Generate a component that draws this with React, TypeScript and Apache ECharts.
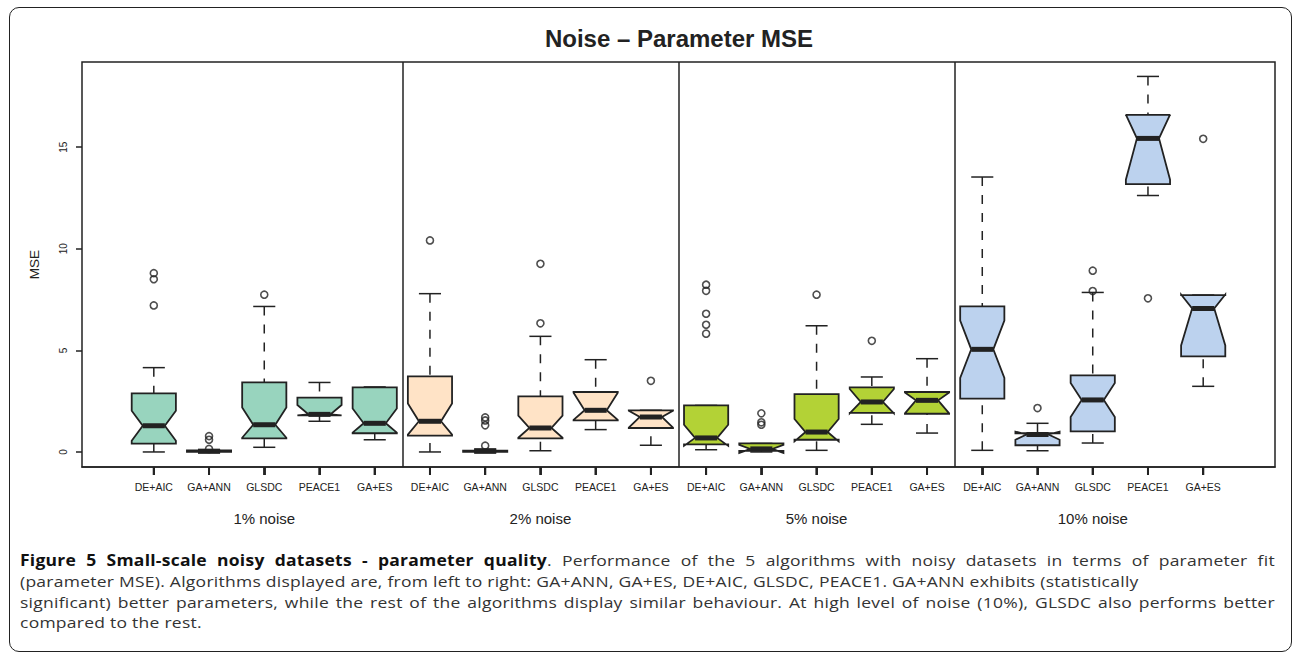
import React, { useEffect, useRef } from "react";
import * as echarts from "echarts";

const algorithms = ["DE+AIC", "GA+ANN", "GLSDC", "PEACE1", "GA+ES"];
const noiseLevels = ["1% noise", "2% noise", "5% noise", "10% noise"];
const panelColors = ["#98D4BE", "#FFE3C6", "#B3D236", "#BCD2EE"];
const yTickValues = [0, 5, 10, 15];

// box statistics per algorithm: [lowWhisker, q1, notchLo, median, notchHi, q3, highWhisker]
const noise1Stats = [
  [0, 0.41, 0.55, 1.29, 2.03, 2.88, 4.15],
  [0, 0.0, 0.01, 0.03, 0.05, 0.08, 0.12],
  [0.23, 0.67, 0.7, 1.34, 2.19, 3.42, 7.16],
  [1.51, 1.8, 1.8, 1.85, 2.31, 2.67, 3.42],
  [0.6, 0.92, 0.95, 1.41, 2.14, 3.18, 3.2],
];
const noise2Stats = [
  [0, 0.8, 0.85, 1.51, 2.38, 3.72, 7.79],
  [0, 0.0, 0.01, 0.03, 0.05, 0.07, 0.15],
  [0.06, 0.67, 0.7, 1.18, 1.79, 2.74, 5.69],
  [1.1, 1.55, 1.58, 2.05, 2.92, 2.95, 4.54],
  [0.33, 1.18, 1.2, 1.72, 2.03, 2.05, 2.05],
];
const noise5Stats = [
  [0.11, 0.37, 0.3, 0.69, 1.34, 2.29, 2.29],
  [0.0, 0.05, -0.05, 0.15, 0.35, 0.42, 0.42],
  [0.08, 0.6, 0.52, 0.98, 1.62, 2.85, 6.21],
  [1.36, 1.92, 1.9, 2.46, 3.1, 3.18, 3.69],
  [0.93, 1.88, 1.9, 2.54, 2.93, 2.95, 4.59],
];
const noise10Stats = [
  [0.08, 2.62, 3.64, 5.05, 6.46, 7.16, 13.53],
  [0.06, 0.33, 0.6, 0.86, 1.0, 0.92, 1.41],
  [0.44, 1.01, 1.72, 2.56, 3.39, 3.77, 7.85],
  [12.62, 13.18, 13.4, 15.43, 16.6, 16.59, 18.48],
  [3.23, 4.7, 5.24, 7.06, 7.75, 7.72, 7.72],
];

// outliers per algorithm
const noise1Outliers = [[8.8, 8.5, 7.21], [0.78, 0.6, 0.15], [7.74], [], []];
const noise2Outliers = [[10.41], [1.7, 1.55, 1.31, 0.31], [6.33, 9.26], [], [3.5]];
const noise5Outliers = [[8.23, 7.93, 6.8, 6.26, 5.82], [1.9, 1.46, 1.34], [7.74], [5.47], []];
const noise10Outliers = [[], [2.16], [7.92, 8.92], [7.56], [15.41]];

const panelStats = [noise1Stats, noise2Stats, noise5Stats, noise10Stats];
const panelOutliers = [noise1Outliers, noise2Outliers, noise5Outliers, noise10Outliers];

type Seg = { t: string; b?: boolean };
const plain = (s: string): Seg[][] => s.split(" ").map((t) => [{ t }]);
const bold = (s: string): Seg[][] => s.split(" ").map((t) => [{ t, b: true }]);

const captionLines: { words: Seg[][]; justify: boolean }[] = [
  {
    justify: true,
    words: [
      ...bold("Figure 5 Small-scale noisy datasets - parameter"),
      [{ t: "quality", b: true }, { t: "." }],
      ...plain("Performance of the 5 algorithms with noisy datasets in terms of parameter fit"),
    ],
  },
  {
    justify: false,
    words: [
      [
        {
          t: "(parameter MSE). Algorithms displayed are, from left to right: GA+ANN, GA+ES, DE+AIC, GLSDC, PEACE1. GA+ANN exhibits (statistically",
        },
      ],
    ],
  },
  {
    justify: true,
    words: plain(
      "significant) better parameters, while the rest of the algorithms display similar behaviour. At high level of noise (10%), GLSDC also performs better"
    ),
  },
  { justify: false, words: [[{ t: "compared to the rest." }]] },
];

export default function App() {
  const ref = useRef<HTMLDivElement>(null);

  useEffect(() => {
    if (!ref.current) return;
    const chart = echarts.init(ref.current, undefined, { renderer: "svg" });

    const boxData: number[][] = [];
    const outlierData: number[][] = [];
    panelStats.forEach((stats, p) => {
      stats.forEach((s, a) => {
        const x = p * 5 + a + 1;
        boxData.push([x, ...s, p]);
        panelOutliers[p][a].forEach((v) => outlierData.push([x, v]));
      });
    });
    const xTicks = boxData.map((d) => d[0]);
    const groupTicks = [3, 8, 13, 18];
    const yMin = -0.74;

    const ink = "#222";
    const font = "Liberation Sans, Arial, sans-serif";

    chart.setOption({
      animation: false,
      title: {
        text: "Noise \u2013 Parameter MSE",
        left: 679,
        top: 26,
        padding: 0,
        textAlign: "center",
        textStyle: { fontFamily: font, fontSize: 24, fontWeight: "bold", color: ink },
      },
      grid: {
        left: 82,
        top: 62,
        right: 20,
        bottom: 186,
        show: true,
        borderColor: ink,
        borderWidth: 1.5,
        backgroundColor: "transparent",
      },
      xAxis: [
        {
          type: "value",
          min: -0.3,
          max: 21.3,
          position: "bottom",
          axisLine: { show: true, onZero: false, lineStyle: { color: ink, width: 1.5 } },
          splitLine: { show: false },
          axisTick: {
            show: true,
            inside: false,
            customValues: xTicks,
            length: 8,
            lineStyle: { color: ink, width: 1.8 },
          },
          axisLabel: {
            customValues: xTicks,
            formatter: (v: number) => algorithms[(Math.round(v) - 1) % 5],
            fontFamily: font,
            fontSize: 10.5,
            color: ink,
            margin: 14,
          },
        },
        {
          type: "value",
          min: -0.3,
          max: 21.3,
          position: "bottom",
          axisLine: { show: false, onZero: false },
          splitLine: { show: false },
          axisTick: { show: false },
          axisLabel: {
            customValues: groupTicks,
            formatter: (v: number) => noiseLevels[Math.round((v - 3) / 5)],
            fontFamily: font,
            fontSize: 15,
            color: ink,
            margin: 44,
          },
        },
      ],
      yAxis: {
        type: "value",
        min: yMin,
        max: 19.19,
        axisLine: { show: false, onZero: false },
        splitLine: { show: false },
        axisTick: { show: true, customValues: yTickValues, length: 6, lineStyle: { color: ink, width: 1.5 } },
        axisLabel: {
          customValues: yTickValues,
          rotate: 90,
          fontFamily: font,
          fontSize: 10,
          color: ink,
          margin: 14,
        },
        name: "MSE",
        nameLocation: "middle",
        nameGap: 41,
        nameTextStyle: { fontFamily: font, fontSize: 13.5, color: ink },
      },
      series: [
        {
          type: "custom",
          xAxisIndex: 0,
          yAxisIndex: 0,
          clip: false,
          data: boxData,
          encode: { x: 0, y: [1, 2, 3, 4, 5, 6, 7] },
          renderItem: (params: any, api: any) => {
            const x = api.value(0);
            const lo = api.value(1);
            const q1 = api.value(2);
            const nLo = api.value(3);
            const med = api.value(4);
            const nHi = api.value(5);
            const q3 = api.value(6);
            const hi = api.value(7);
            const p = api.value(8);
            const hw = api.size([0.4, 0])[0];
            const cx = api.coord([x, 0])[0];
            const y = (v: number) => api.coord([x, v])[1];
            const L = cx - hw;
            const R = cx + hw;
            const nw = hw / 2;
            const stroke = { stroke: ink, lineWidth: 1.5 };
            const children: any[] = [];
            const axisY = y(yMin);
            children.push({
              type: "line",
              z2: 50,
              shape: { x1: cx, y1: axisY, x2: cx, y2: axisY + 8 },
              style: { stroke: ink, lineWidth: 1.8 },
            });
            if (hi > q3) {
              children.push({
                type: "line",
                shape: { x1: cx, y1: y(hi), x2: cx, y2: y(q3) },
                style: { ...stroke, lineDash: [9, 9] },
              });
            }
            if (lo < q1) {
              children.push({
                type: "line",
                shape: { x1: cx, y1: y(lo), x2: cx, y2: y(q1) },
                style: { ...stroke, lineDash: [9, 9] },
              });
            }
            children.push({
              type: "line",
              shape: { x1: cx - nw, y1: y(hi), x2: cx + nw, y2: y(hi) },
              style: stroke,
            });
            children.push({
              type: "line",
              shape: { x1: cx - nw, y1: y(lo), x2: cx + nw, y2: y(lo) },
              style: stroke,
            });
            children.push({
              type: "polygon",
              shape: {
                points: [
                  [L, y(q1)],
                  [L, y(nLo)],
                  [cx - nw, y(med)],
                  [L, y(nHi)],
                  [L, y(q3)],
                  [R, y(q3)],
                  [R, y(nHi)],
                  [cx + nw, y(med)],
                  [R, y(nLo)],
                  [R, y(q1)],
                ],
              },
              style: { fill: panelColors[p], stroke: ink, lineWidth: 1.8, lineJoin: "miter" },
            });
            children.push({
              type: "line",
              shape: { x1: cx - nw, y1: y(med), x2: cx + nw, y2: y(med) },
              style: { stroke: ink, lineWidth: 5 },
            });
            return { type: "group", children };
          },
        },
        {
          type: "scatter",
          xAxisIndex: 0,
          yAxisIndex: 0,
          data: outlierData,
          symbol: "circle",
          symbolSize: 7,
          itemStyle: { color: "rgba(0,0,0,0)", borderColor: ink, borderWidth: 1.6 },
          markLine: {
            silent: true,
            symbol: ["none", "none"],
            label: { show: false },
            lineStyle: { color: ink, width: 1.5, type: "solid" },
            data: [{ xAxis: 5.5 }, { xAxis: 10.5 }, { xAxis: 15.5 }],
          },
        },
      ],
    });

    // x-axis tick marks, positioned through the chart's own scales
    const tickGraphics = xTicks.map((x) => {
      const pt = chart.convertToPixel({ gridIndex: 0 }, [x, yMin]) as number[];
      return {
        type: "rect",
        silent: true,
        z: 100,
        shape: { x: pt[0] - 1, y: pt[1], width: 2, height: 8 },
        style: { fill: ink },
      };
    });
    chart.setOption({ graphic: tickGraphics });

    return () => chart.dispose();
  }, []);

  return (
    <div style={{ position: "fixed", left: 0, top: 0, width: 1295, height: 653, background: "#fff", overflow: "hidden" }}>
      <div
        style={{
          position: "absolute",
          left: 9,
          top: 7,
          width: 1283,
          height: 645,
          boxSizing: "border-box",
          border: "1.5px solid #222",
          borderRadius: 10,
        }}
      />
      <div ref={ref} style={{ position: "absolute", left: 0, top: 0, width: 1295, height: 653 }} />
      <div
        style={{
          position: "absolute",
          left: 20,
          top: 551,
          width: 1255,
          fontFamily: "'Open Sans', sans-serif",
          fontSize: 17.5,
          letterSpacing: "0.25px",
          color: "#333",
          lineHeight: "23.8px",
          transform: "scaleY(0.86)",
          transformOrigin: "0 0",
        }}
      >
        {captionLines.map((line, i) => (
          <div
            key={i}
            style={
              line.justify
                ? { display: "flex", justifyContent: "space-between", whiteSpace: "nowrap" }
                : { whiteSpace: "nowrap" }
            }
          >
            {line.words.map((w, j) => (
              <span key={j}>
                {w.map((s, k) => (
                  <span key={k} style={{ fontWeight: s.b ? 700 : 400, color: s.b ? "#111" : "#333" }}>
                    {s.t}
                  </span>
                ))}
              </span>
            ))}
          </div>
        ))}
      </div>
    </div>
  );
}
